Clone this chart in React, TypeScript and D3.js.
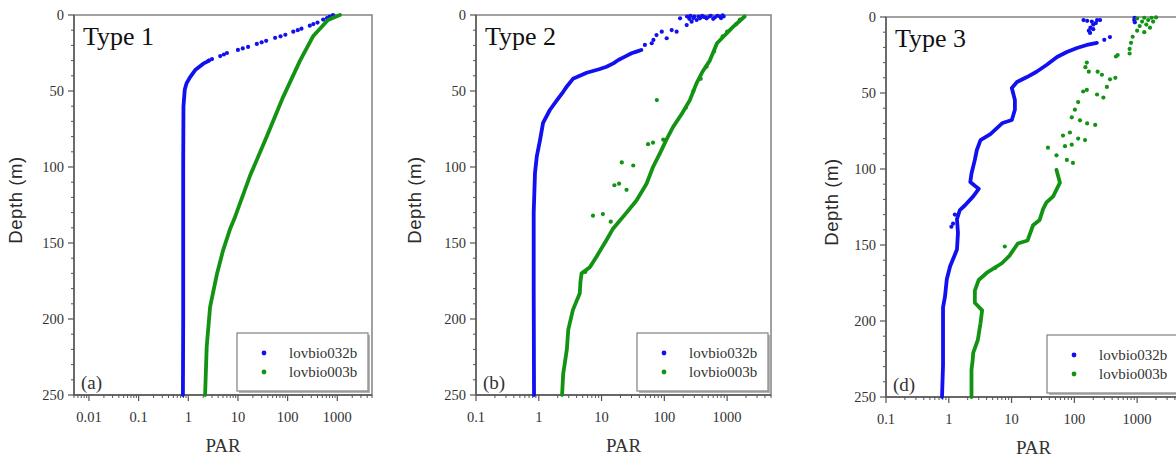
import React from 'react';
import * as d3 from 'd3';

// [PAR, depth] pairs
const T1_BLUE_DOTS = [[820, 0], [700, 1], [620, 2], [520, 3], [400, 5], [330, 6], [280, 7], [190, 9], [160, 10], [130, 11], [90, 13], [72, 14], [56, 15], [37, 17], [30, 18], [24, 19], [16, 21], [12.5, 22], [10, 23], [6, 25], [5.2, 26], [4.4, 27], [3, 29], [2.6, 30]];
const T1_BLUE_TRACE = [[2.6, 30], [2.3, 31], [2, 32], [1.4, 36], [1.08, 41], [0.92, 45], [0.85, 49], [0.8, 60], [0.79, 100], [0.79, 150], [0.79, 200], [0.78, 250]];
const T1_GREEN_TRACE = [[1130, 0], [650, 3.3], [325, 14], [178, 30], [81, 54], [38, 80], [17.4, 106], [8.7, 133], [6.9, 141], [5.0, 155], [3.8, 170], [2.75, 192], [2.35, 218], [2.18, 250]];

const T2_BLUE_DOTS = [[49, 19.7], [63, 18.6], [67, 16.4], [75, 13.2], [91, 11], [109, 15.3], [131, 9.9], [157, 11], [178, 2.2], [227, 6.6], [272, 4.4], [327, 3.3], [369, 2.2], [472, 2.2], [640, 1.5], [767, 1], [550, 0.5], [850, 0.3], [420, 1.2], [300, 1], [250, 2.5], [230, 1], [260, 0.5], [290, 2], [350, 1], [400, 0.5], [450, 1.5], [520, 1], [600, 2.5], [700, 0.5], [800, 2], [880, 1]];
const T2_BLUE_TRACE = [[43, 23], [36, 24.1], [30, 25.2], [23.6, 27.4], [18.5, 29.6], [15.4, 31.8], [12, 34], [9.4, 35.5], [5.8, 38], [3.5, 42], [2.8, 47], [2.45, 50.5], [1.95, 56], [1.5, 62.5], [1.17, 71], [1.05, 82], [0.93, 93], [0.87, 104], [0.83, 130], [0.83, 180], [0.84, 250]];
const T2_GREEN_TRACE = [[1900, 1], [1230, 8], [690, 18.6], [530, 30], [410, 37], [325, 45], [255, 56], [190, 65], [138, 73.6], [108, 82], [85, 91], [66, 100], [52, 111], [36, 122], [25, 130], [15, 141], [12, 148], [8.3, 159], [6.5, 166], [4.8, 170], [4.6, 176], [4.5, 183], [3.5, 194], [2.95, 207], [2.8, 220], [2.45, 236], [2.35, 250]];
const T2_GREEN_DOTS = [[1600, 3], [1400, 6], [1000, 11], [850, 14], [620, 24], [470, 34], [380, 42], [290, 50], [220, 61], [76, 56], [66, 84], [55, 85], [96, 82], [21, 97], [32, 99], [16, 112], [19, 111], [25, 115], [7.3, 132], [10.5, 131], [14, 136], [5.5, 169]];

const T3_BLUE_DOTS = [[140, 2], [160, 2.5], [190, 3], [230, 2], [257, 2], [220, 4], [200, 5], [180, 7], [170, 9], [178, 10.5], [200, 8], [910, 0.5], [900, 2], [920, 3.5], [369, 13.2], [300, 15], [1.17, 136], [1.1, 138], [1.25, 130]];
const T3_BLUE_TRACE = [[229, 17], [158, 18.4], [110, 20.4], [76, 23], [53, 26.3], [36, 31.6], [25, 36], [17.6, 39.5], [12.2, 42.8], [10.1, 46.7], [11.3, 54.6], [11.3, 61], [10.1, 67.8], [7.2, 69.7], [4.6, 77], [3.2, 81], [2.8, 87.5], [2.6, 94], [2.3, 103], [2.2, 108.5], [2.6, 111], [3.0, 113], [2.45, 118], [1.8, 124], [1.5, 127], [1.35, 133], [1.4, 142], [1.35, 153], [1.05, 164], [0.93, 172.5], [0.87, 184], [0.81, 191], [0.81, 207], [0.81, 229], [0.78, 250]];
const T3_GREEN_DOTS = [[1000, 1], [1300, 0.5], [1700, 0.5], [2000, 0.3], [1500, 2], [1200, 3], [1800, 3], [1400, 5], [1100, 6], [1600, 7], [1000, 9], [1300, 10], [850, 13], [800, 17], [760, 21], [760, 24], [490, 25], [460, 26], [158, 30], [150, 33], [170, 36], [235, 36], [275, 38], [370, 41], [450, 40], [330, 46], [158, 48], [138, 49], [230, 51], [290, 53], [115, 56], [102, 61], [91, 66], [123, 68], [160, 70], [215, 71], [85, 76], [66, 78], [115, 80], [148, 81], [71, 85], [91, 84], [38, 86], [52, 91], [76, 94], [95, 96], [7.8, 151], [5.5, 165]];
const T3_GREEN_TRACE = [[52, 100.6], [59, 109], [46, 118], [36, 122], [32, 126], [28, 133.5], [22, 137], [18, 147], [12.6, 149], [10, 155], [9.3, 157], [7, 162], [4, 168.4], [3, 173], [2.6, 180], [2.6, 188], [3.4, 193], [3.3, 197], [3.2, 201.5], [2.9, 212.5], [2.45, 221], [2.4, 226], [2.3, 232], [2.3, 250]];

const X_TICKS_WIDE = [0.01, 0.1, 1, 10, 100, 1000];
const X_TICKS = [0.1, 1, 10, 100, 1000];
const Y_TICKS = [0, 50, 100, 150, 200, 250];
const SERIES_NAMES = ['lovbio032b', 'lovbio003b'];

const BLUE = '#1010f0';
const GREEN = '#139313';
const TEXT = '#333';
const SERIF = '"Liberation Serif", "Times New Roman", serif';

const panels = [
  { left: 74, right: 372, top: 15, bottom: 395, xMin: 0.005, ticks: X_TICKS_WIDE, title: 'Type 1', tag: '(a)', depthX: 22, legX: 237,
    blueTrace: T1_BLUE_TRACE, blueDots: T1_BLUE_DOTS, greenTrace: T1_GREEN_TRACE, greenDots: [] },
  { left: 476, right: 771, top: 15, bottom: 395, xMin: 0.1, ticks: X_TICKS, title: 'Type 2', tag: '(b)', depthX: 421, legX: 637,
    blueTrace: T2_BLUE_TRACE, blueDots: T2_BLUE_DOTS, greenTrace: T2_GREEN_TRACE, greenDots: T2_GREEN_DOTS },
  { left: 886, right: 1181, top: 17, bottom: 397, xMin: 0.1, ticks: X_TICKS, title: 'Type 3', tag: '(d)', depthX: 838, legX: 1047,
    blueTrace: T3_BLUE_TRACE, blueDots: T3_BLUE_DOTS, greenTrace: T3_GREEN_TRACE, greenDots: T3_GREEN_DOTS },
];

function Panel({ p }: { p: any }) {
  const x = d3.scaleLog().domain([p.xMin, 5000]).range([p.left, p.right]);
  const y = d3.scaleLinear().domain([0, 250]).range([p.top, p.bottom]);
  const line = d3.line<number[]>().x(d => x(d[0])).y(d => y(d[1]));
  const minorX = x.ticks().filter(v => !p.ticks.some((t: number) => Math.abs(t - v) / t < 1e-6));
  const minorY = d3.range(0, 251, 10).filter(v => v % 50 !== 0);
  const midY = (p.top + p.bottom) / 2 - 5;
  const legY = p.bottom - 62;

  return (
    <g>
      {/* frame */}
      <rect x={p.left} y={p.top} width={p.right - p.left} height={p.bottom - p.top} fill="none" stroke="#8a8a8a" strokeWidth={1.6} />
      <line x1={p.left} x2={p.left} y1={p.top} y2={p.bottom} stroke="#555" strokeWidth={1.4} />
      <line x1={p.left} x2={p.right} y1={p.bottom} y2={p.bottom} stroke="#555" strokeWidth={1.4} />

      {/* y ticks */}
      {Y_TICKS.map(t => (
        <g key={'y' + t}>
          <line x1={p.left - 6} x2={p.left} y1={y(t)} y2={y(t)} stroke="#555" strokeWidth={1.2} />
          <text x={p.left - 10} y={y(t) + 5} textAnchor="end" fontFamily={SERIF} fontSize={14.5} fill={TEXT}>{t}</text>
        </g>
      ))}
      {minorY.map(t => (
        <line key={'my' + t} x1={p.left - 3} x2={p.left} y1={y(t)} y2={y(t)} stroke="#555" strokeWidth={1} />
      ))}

      {/* x ticks */}
      {p.ticks.map((t: number) => (
        <g key={'x' + t}>
          <line x1={x(t)} x2={x(t)} y1={p.bottom} y2={p.bottom + 6} stroke="#555" strokeWidth={1.2} />
          <text x={x(t)} y={p.bottom + 27} textAnchor="middle" fontFamily={SERIF} fontSize={14.5} fill={TEXT}>{String(t)}</text>
        </g>
      ))}
      {minorX.map(t => (
        <line key={'mx' + t} x1={x(t)} x2={x(t)} y1={p.bottom} y2={p.bottom + 3} stroke="#555" strokeWidth={1} />
      ))}

      {/* axis titles */}
      <text x={(p.left + p.right) / 2} y={p.bottom + 57} textAnchor="middle" fontFamily={SERIF} fontSize={19} fill={TEXT}>PAR</text>
      <text transform={`translate(${p.depthX},${midY}) rotate(-90)`} textAnchor="middle" fontFamily="'Liberation Sans', Arial, sans-serif" fontSize={18.5} letterSpacing={0.6} fill="#2a2a2a">Depth (m)</text>

      {/* data */}
      <g>
        <path d={line(p.blueTrace) || ''} fill="none" stroke={BLUE} strokeWidth={3.8} strokeLinecap="round" strokeLinejoin="round" />
        {p.blueDots.map((d: number[], i: number) => (
          <circle key={'bd' + i} cx={x(d[0])} cy={y(d[1])} r={2.1} fill={BLUE} />
        ))}
        <path d={line(p.greenTrace) || ''} fill="none" stroke={GREEN} strokeWidth={3.8} strokeLinecap="round" strokeLinejoin="round" />
        {p.greenDots.map((d: number[], i: number) => (
          <circle key={'gd' + i} cx={x(d[0])} cy={y(d[1])} r={2.1} fill={GREEN} />
        ))}
      </g>

      {/* labels */}
      <text x={p.left + 9} y={p.top + 30} fontFamily={SERIF} fontSize={26} fill="#111">{p.title}</text>
      <text x={p.left + 7} y={p.bottom - 6} fontFamily={SERIF} fontSize={19} fill={TEXT}>{p.tag}</text>

      {/* legend */}
      <rect x={p.legX + 2} y={legY + 2} width={131} height={58} fill="#b5b5b5" />
      <rect x={p.legX} y={legY} width={131} height={58} fill="#fff" stroke="#8a8a8a" strokeWidth={1.3} />
      {SERIES_NAMES.map((name, i) => (
        <g key={name}>
          <circle cx={p.legX + 27} cy={legY + 20 + i * 19} r={2.4} fill={i === 0 ? BLUE : GREEN} />
          <text x={p.legX + 52} y={legY + 25 + i * 19} fontFamily={SERIF} fontSize={15} fill={TEXT}>{name}</text>
        </g>
      ))}
    </g>
  );
}

export default function App() {
  return (
    <svg width={1176} height={459} style={{ position: 'absolute', left: 0, top: 0, background: '#fff' }}>
      {panels.map((p, i) => <Panel key={i} p={p} />)}
    </svg>
  );
}
